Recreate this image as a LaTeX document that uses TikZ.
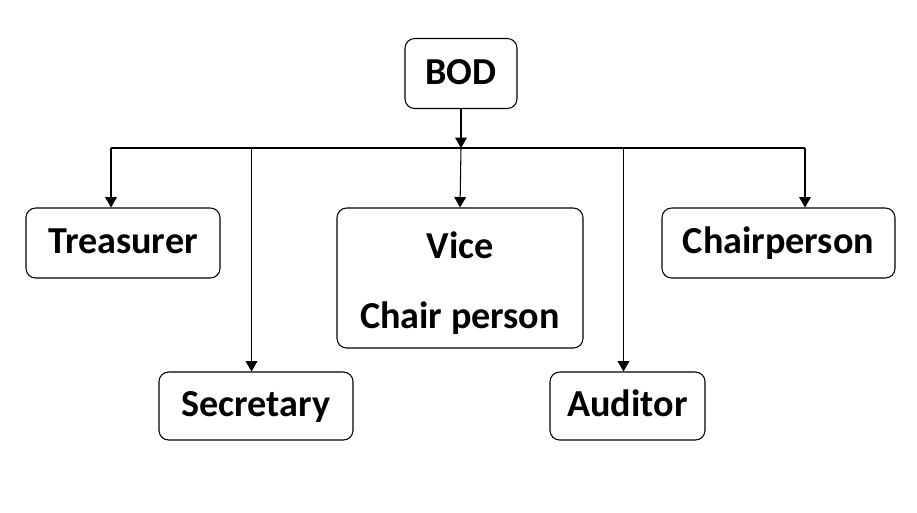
\documentclass[tikz,border=0pt]{standalone}
\usepackage{fontspec}
\setmainfont{Carlito}
\usetikzlibrary{arrows}
\tikzset{
  orgnode/.style = {align=center, inner sep=0pt, text centered, font=\bfseries\fontsize{21.7}{40}\selectfont},
  % post node: rounded box with bold text
  post_box/.style = {orgnode, rectangle, rounded corners=5.5pt, draw=black, line width=0.6pt},
  post_line/.style = {post_box, text height=12.5pt, text depth=0pt},
  link_line/.style = {draw=black, line width=0.6pt}
}
\begin{document}
\begin{tikzpicture}[x=0.02cm,y=-0.02cm,
    ->,>=triangle 60
    ]
    \useasboundingbox (0,0) rectangle (917,512);
    % Root node:
    \node [post_line][minimum width=112*0.02cm, minimum height=70*0.02cm] (bod) at (461,73.5) {BOD};
    % Layer 1 - top row:
    \node [post_line][minimum width=194*0.02cm, minimum height=70*0.02cm] (treasurer) at (123,243) {Treasurer};
    \node [post_box][minimum width=246*0.02cm, minimum height=140*0.02cm] (vice) at (460,278) {\rule{0pt}{21pt}Vice\\Chair person};
    \node [post_line][minimum width=233*0.02cm, minimum height=70*0.02cm] (chair) at (778.5,243) {Chairperson};
    % Layer 2 - bottom row:
    \node [post_line][minimum width=194*0.02cm, minimum height=68*0.02cm] (secretary) at (256,406) {Secretary};
    \node [post_line][minimum width=155*0.02cm, minimum height=68*0.02cm] (auditor) at (627.5,406) {Auditor};
    % Bus points:
    \coordinate (hub) at (461,148);
    \coordinate (b_treasurer) at (111,148);
    \coordinate (b_secretary) at (251.5,148);
    \coordinate (b_auditor) at (623.5,148);
    \coordinate (b_chair) at (805,148);
    % Connectors:
    \draw [link_line] (bod.south) -- (hub);
    \draw [link_line,-] (b_treasurer) -- (b_chair);
    \draw [link_line] (b_treasurer) -- (b_treasurer |- treasurer.north);
    \draw [link_line] (b_secretary) -- (b_secretary |- secretary.north);
    \draw [link_line] (hub) -- (vice.north);
    \draw [link_line] (b_auditor) -- (b_auditor |- auditor.north);
    \draw [link_line] (b_chair) -- (b_chair |- chair.north);
\end{tikzpicture}
\end{document}
